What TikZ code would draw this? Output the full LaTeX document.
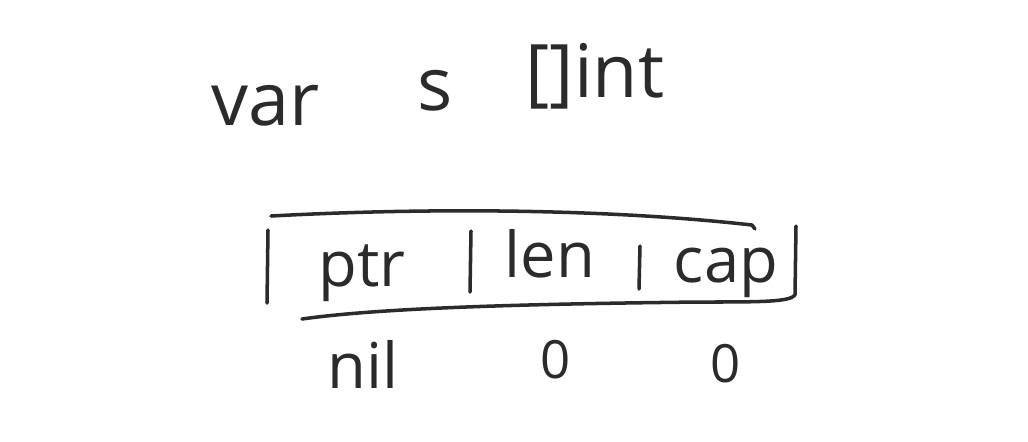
\documentclass[tikz,border=0pt]{standalone}
\usepackage{fontspec}
\setmainfont{Open Sans}
\definecolor{ink}{HTML}{2B2B2B}
\begin{document}
\begin{tikzpicture}[x=0.02cm,y=-0.02cm,
  hand/.style={font=\fontsize{36}{44}\selectfont, text=ink, inner sep=0pt, anchor=base},
  big/.style={hand, font=\fontsize{42}{50}\selectfont},
  small/.style={hand, font=\fontsize{30}{36}\selectfont},
  pen/.style={line width=2pt, draw=ink, line cap=round, line join=round}]
\useasboundingbox (0,0) rectangle (1028,441);
% top declaration
\node[big] (var) at (266,125) {var};
\node[big] (s) at (435,110) {s};
\node[big] (typ) at (595,97) {[]int};
% slice header box
\draw[pen] (271,216) .. controls (420,208) and (600,208) .. (752,225) -- (755,229);
\draw[pen] (302,319) .. controls (380,308) and (520,304) .. (700,302)
           .. controls (760,302) and (790,302) .. (795,295);
\draw[pen] (268,230) -- (267,303);
\draw[pen] (796,226) -- (795,295);
\draw[pen] (471,231) -- (470,292);
\draw[pen] (640,246) -- (639,289);
\node[hand] (ptr) at (362,286) {ptr};
\node[hand] (len) at (550,277) {len};
\node[hand] (cap) at (726,282) {cap};
% values
\node[hand] (nil) at (363,388) {nil};
\node[small] (z1) at (556,378) {0};
\node[small] (z2) at (726,382) {0};
\end{tikzpicture}
\end{document}
